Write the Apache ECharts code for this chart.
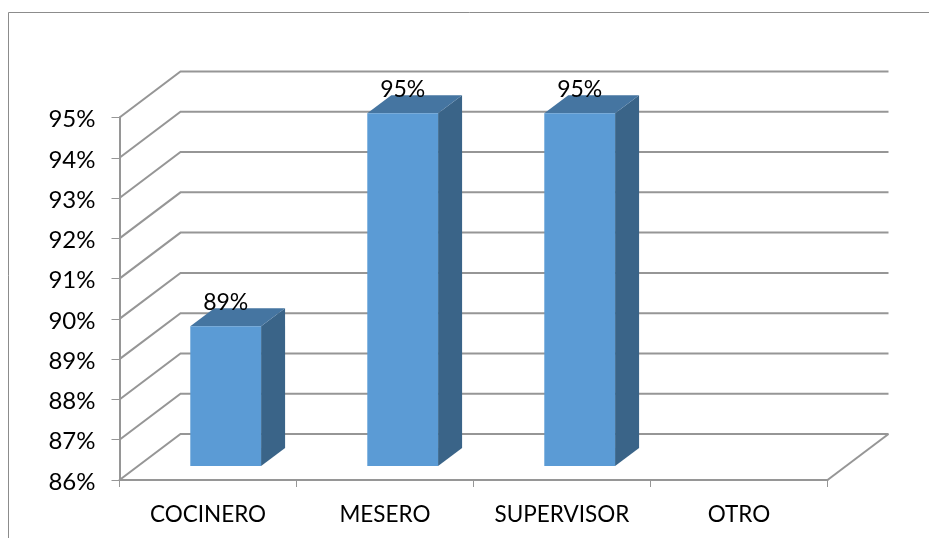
<!DOCTYPE html>
<html>
<head>
<meta charset="utf-8">
<style>html,body{margin:0;padding:0;background:#fff}#c{width:929px;height:538px}</style>
<script src="https://cdn.jsdelivr.net/npm/echarts@6/dist/echarts.min.js"></script>
</head>
<body>
<div id="c"></div>
<script>
const categories = ["COCINERO", "MESERO", "SUPERVISOR", "OTRO"];
const values = [89.47, 94.76, 94.76, null];
const dataLabels = ["89%", "95%", "95%", ""];
const yTicks = [86, 87, 88, 89, 90, 91, 92, 93, 94, 95];

const FONT = 'Lato, "Open Sans", sans-serif';
const GRID_COLOR = '#969696';
const DEPTH_X = 61, DEPTH_Y = 46;
const BAR_NEAR = 0.29, BAR_WIDTH_RATIO = 0.4;

const chart = echarts.init(document.getElementById('c'), null, {renderer: 'canvas'});

function renderWall(params, api) {
  const cs = params.coordSys;
  const y = api.coord([0, api.value(1)])[1];
  const x0 = cs.x, x1 = cs.x + cs.width;
  const style = {stroke: GRID_COLOR, lineWidth: 2, fill: null};
  const children = [{
    type: 'polyline',
    shape: {points: [[x0, y], [x0 + DEPTH_X, y - DEPTH_Y], [x1 + DEPTH_X, y - DEPTH_Y]]},
    style
  }];
  if (api.value(1) === yTicks[0]) {
    children.push({
      type: 'polyline',
      shape: {points: [[x1, y], [x1 + DEPTH_X, y - DEPTH_Y]]},
      style
    });
  }
  return {type: 'group', children};
}

function renderBar(params, api) {
  const v = api.value(1);
  if (v == null || isNaN(v)) return null;
  const idx = api.value(0);
  const c = api.coord([idx, v]);
  const base = api.coord([idx, yTicks[0]]);
  const band = api.size([1, 0])[0];
  const w = band * BAR_WIDTH_RATIO;
  const ox = DEPTH_X * BAR_NEAR, oy = 14;
  const dx = 24, dy = 18;
  const l = c[0] + ox - w / 2, r = l + w, t = c[1] - oy, b = base[1] - oy;
  return {
    type: 'group',
    children: [
      {type: 'polygon', shape: {points: [[r, t], [r + dx, t - dy], [r + dx, b - dy], [r, b]]}, style: {fill: '#3A6488'}},
      {type: 'polygon', shape: {points: [[l, t], [r, t], [r + dx, t - dy], [l + dx, t - dy]]}, style: {fill: '#4575A1'}},
      {type: 'rect', shape: {x: l, y: t, width: w, height: b - t}, style: {fill: '#5B9BD5'}},
      {type: 'text', x: l + w / 2, y: t - 24, style: {
        text: dataLabels[idx], font: '23px ' + FONT, fill: '#000', align: 'center', verticalAlign: 'middle'
      }}
    ]
  };
}

chart.setOption({
  animation: false,
  backgroundColor: '#ffffff',
  graphic: [{
    type: 'polyline',
    shape: {points: [[8.5, 545], [8.5, 12.5], [935, 12.5]]},
    style: {stroke: '#8c8c8c', lineWidth: 1, fill: null},
    silent: true
  }],
  grid: {left: 119.5, top: 117.5, right: 929 - 827.5, bottom: 58, containLabel: false},
  xAxis: {
    type: 'category',
    data: categories,
    boundaryGap: true,
    axisLine: {show: true, lineStyle: {color: GRID_COLOR, width: 2}},
    axisTick: {show: true, length: 7, lineStyle: {color: GRID_COLOR, width: 1}},
    axisLabel: {color: '#000', fontFamily: FONT, fontSize: 22.5, margin: 23},
    splitLine: {show: false}
  },
  yAxis: {
    type: 'value',
    min: 86, max: 95, interval: 1,
    axisLine: {show: true, lineStyle: {color: GRID_COLOR, width: 2}},
    axisTick: {show: true, length: 8, lineStyle: {color: GRID_COLOR, width: 1}},
    axisLabel: {color: '#000', fontFamily: FONT, fontSize: 24, margin: 24, verticalAlign: 'top', lineHeight: 4, formatter: '{value}%'},
    splitLine: {show: false}
  },
  series: [
    {type: 'custom', renderItem: renderWall, data: yTicks.map(t => [0, t]), encode: {x: 0, y: 1}, z: 1, silent: true},
    {type: 'custom', renderItem: renderBar, data: values.map((v, i) => [i, v]), encode: {x: 0, y: 1}, z: 3, silent: true}
  ]
});
</script>
</body>
</html>
